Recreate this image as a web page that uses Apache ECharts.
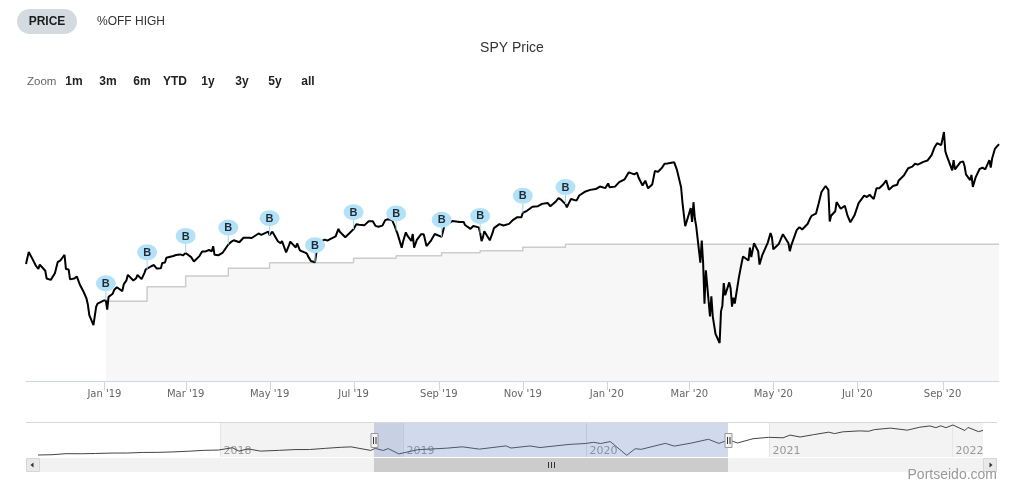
<!DOCTYPE html>
<html><head><meta charset="utf-8">
<script src="https://cdn.jsdelivr.net/npm/echarts@6/dist/echarts.min.js"></script>
<style>html,body{margin:0;padding:0;background:#fff}#c{width:1024px;height:500px}</style>
</head><body><div id="c"></div>
<script>
// ---------- DATA ----------
const priceDates = ['2018-11-05','2018-11-07','2018-11-08','2018-11-09','2018-11-12','2018-11-14','2018-11-15','2018-11-16','2018-11-19','2018-11-20','2018-11-23','2018-11-26','2018-11-28','2018-11-30','2018-12-03','2018-12-04','2018-12-06','2018-12-07','2018-12-10','2018-12-12','2018-12-14','2018-12-17','2018-12-19','2018-12-20','2018-12-21','2018-12-24','2018-12-26','2018-12-27','2018-12-28','2018-12-31',
'2019-01-02','2019-01-03','2019-01-04','2019-01-07','2019-01-08','2019-01-10','2019-01-14','2019-01-15','2019-01-17','2019-01-18','2019-01-22','2019-01-24','2019-01-25','2019-01-28','2019-01-30','2019-01-31','2019-02-01','2019-02-04','2019-02-06','2019-02-08','2019-02-11','2019-02-12','2019-02-14','2019-02-15','2019-02-20','2019-02-22','2019-02-25','2019-02-27','2019-03-01','2019-03-05','2019-03-07','2019-03-08','2019-03-11','2019-03-13','2019-03-15','2019-03-18','2019-03-20','2019-03-21','2019-03-22','2019-03-25','2019-03-28','2019-04-01','2019-04-03','2019-04-05','2019-04-09','2019-04-12','2019-04-16','2019-04-18','2019-04-23','2019-04-25','2019-04-30','2019-05-01','2019-05-03','2019-05-07','2019-05-09','2019-05-10','2019-05-13','2019-05-15','2019-05-16','2019-05-20','2019-05-21','2019-05-23','2019-05-28','2019-05-29','2019-05-31','2019-06-03','2019-06-04','2019-06-06','2019-06-07','2019-06-10','2019-06-12','2019-06-14','2019-06-18','2019-06-20','2019-06-21','2019-06-25','2019-06-28','2019-07-01','2019-07-03','2019-07-05','2019-07-09','2019-07-12','2019-07-15','2019-07-17','2019-07-19','2019-07-22','2019-07-24','2019-07-26','2019-07-29','2019-07-31','2019-08-01','2019-08-02','2019-08-05','2019-08-06','2019-08-08','2019-08-09','2019-08-12','2019-08-13','2019-08-14','2019-08-16','2019-08-19','2019-08-21','2019-08-23','2019-08-26','2019-08-27','2019-08-29','2019-09-03','2019-09-05','2019-09-06','2019-09-11','2019-09-12','2019-09-16','2019-09-19','2019-09-20','2019-09-24','2019-09-26','2019-09-30','2019-10-01','2019-10-02','2019-10-03','2019-10-04','2019-10-08','2019-10-10','2019-10-11','2019-10-15','2019-10-18','2019-10-22','2019-10-25','2019-10-28','2019-10-31','2019-11-01','2019-11-04','2019-11-08','2019-11-12','2019-11-15','2019-11-19','2019-11-21','2019-11-25','2019-11-27','2019-11-29','2019-12-02','2019-12-03','2019-12-04','2019-12-06','2019-12-10','2019-12-12','2019-12-13','2019-12-16','2019-12-20','2019-12-24','2019-12-27','2019-12-31',
'2020-01-02','2020-01-03','2020-01-07','2020-01-10','2020-01-14','2020-01-17','2020-01-21','2020-01-23','2020-01-24','2020-01-27','2020-01-29','2020-01-31','2020-02-03','2020-02-05','2020-02-07','2020-02-10','2020-02-12','2020-02-14','2020-02-19','2020-02-21','2020-02-24','2020-02-25','2020-02-26','2020-02-27','2020-02-28','2020-03-02','2020-03-03','2020-03-04','2020-03-05','2020-03-06','2020-03-09','2020-03-10','2020-03-11','2020-03-12','2020-03-13','2020-03-16','2020-03-17','2020-03-18','2020-03-19','2020-03-20','2020-03-23','2020-03-24','2020-03-25','2020-03-26','2020-03-27','2020-03-30','2020-03-31','2020-04-01','2020-04-02','2020-04-03','2020-04-06','2020-04-08','2020-04-09','2020-04-13','2020-04-14','2020-04-15','2020-04-17','2020-04-20','2020-04-21','2020-04-23','2020-04-27','2020-04-29','2020-04-30','2020-05-01','2020-05-05','2020-05-08','2020-05-12','2020-05-13','2020-05-14','2020-05-15','2020-05-18','2020-05-20','2020-05-22','2020-05-26','2020-05-28','2020-05-29','2020-06-01','2020-06-03','2020-06-05','2020-06-08','2020-06-10','2020-06-11','2020-06-12','2020-06-15','2020-06-16','2020-06-19','2020-06-22','2020-06-24','2020-06-26','2020-06-29','2020-07-02','2020-07-06','2020-07-08','2020-07-10','2020-07-13','2020-07-15','2020-07-17','2020-07-20','2020-07-22','2020-07-24','2020-07-27','2020-07-30','2020-07-31','2020-08-04','2020-08-07','2020-08-10','2020-08-12','2020-08-14','2020-08-18','2020-08-21','2020-08-24','2020-08-26','2020-08-28','2020-08-31','2020-09-02','2020-09-03','2020-09-04','2020-09-08','2020-09-09','2020-09-10','2020-09-11','2020-09-14','2020-09-16','2020-09-17','2020-09-18','2020-09-21','2020-09-22','2020-09-23','2020-09-24','2020-09-25','2020-09-28','2020-09-30','2020-10-02','2020-10-05','2020-10-06','2020-10-07','2020-10-09','2020-10-12'];
const priceValues = [273.39,281.01,280.50,277.76,272.57,270.20,273.02,273.73,269.10,264.12,263.25,267.50,274.58,275.65,279.30,270.25,269.84,263.57,264.07,265.37,260.47,255.36,251.26,247.17,240.70,234.34,246.18,248.07,247.75,249.92,
250.18,244.21,252.39,254.38,256.77,258.55,256.06,260.35,262.96,266.46,262.86,264.26,266.38,263.76,267.58,269.93,270.06,271.96,272.74,270.47,270.62,274.10,274.38,277.37,278.55,279.14,279.52,278.87,280.42,277.80,275.01,274.46,278.44,281.34,281.31,282.33,281.55,284.73,279.25,279.04,280.71,285.83,287.50,288.57,287.31,290.16,290.17,290.02,292.88,292.05,294.02,291.81,294.03,287.93,286.66,288.10,280.86,285.06,287.70,283.95,286.51,282.14,280.15,278.27,275.27,274.57,280.53,284.80,287.65,288.97,288.39,289.26,290.99,295.86,294.00,290.47,293.00,295.66,298.80,298.46,298.22,300.65,300.75,297.74,297.17,297.90,301.44,302.01,301.46,297.43,294.84,292.62,283.82,287.80,293.62,291.62,288.07,292.55,283.90,288.85,292.33,292.45,284.85,288.00,286.87,292.58,290.74,297.80,298.05,300.87,301.29,300.16,300.30,298.28,295.87,297.62,296.77,293.24,288.06,290.42,294.35,288.53,293.24,296.28,298.88,297.97,299.01,301.60,303.30,303.33,306.14,307.37,309.96,310.30,311.79,312.38,310.27,313.37,315.48,314.31,311.64,309.55,311.46,314.87,313.87,317.13,317.32,319.50,320.73,321.23,322.86,321.86,
324.87,322.41,322.81,325.71,327.45,331.95,330.65,331.72,328.77,323.50,326.62,321.73,324.12,332.86,332.20,334.68,337.42,337.60,338.34,333.48,322.42,312.65,311.50,297.51,296.26,309.09,300.24,312.86,302.46,297.46,274.23,288.42,274.36,248.11,269.32,239.85,252.80,240.00,240.51,228.80,222.95,243.15,246.79,261.20,253.42,261.65,257.75,246.15,251.83,248.19,264.86,274.03,278.20,275.66,283.79,277.76,286.64,281.59,273.04,279.10,287.05,293.21,290.48,282.79,286.19,292.44,286.67,281.60,285.09,286.28,295.00,296.93,295.44,299.08,302.97,304.32,305.55,312.18,319.34,323.20,320.79,300.61,304.21,307.05,312.96,308.64,310.62,304.09,300.05,304.46,312.23,317.05,316.18,317.59,314.84,321.85,321.72,324.32,326.83,320.88,323.22,323.96,326.52,330.06,334.57,335.57,337.44,336.84,338.64,339.48,342.92,347.57,350.58,349.31,357.70,345.39,342.57,333.21,339.79,333.89,334.06,338.46,338.82,335.84,330.65,326.97,330.30,322.64,323.50,328.73,334.19,334.89,333.84,339.76,334.93,340.76,346.85,350.00];

const buyDates  = ['2019-01-02','2019-02-01','2019-03-01','2019-04-01','2019-05-01','2019-06-03','2019-07-01','2019-08-01','2019-09-03','2019-10-01','2019-11-01','2019-12-02'];
const buyPrices = [250.18,270.06,280.42,285.83,291.81,274.57,295.66,294.84,290.74,293.24,306.14,311.64];
const buyLabel  = 'B';

const avgDates  = ['2019-01-02','2019-02-01','2019-03-01','2019-04-01','2019-05-01','2019-06-03','2019-07-01','2019-08-01','2019-09-03','2019-10-01','2019-11-01','2019-12-02','2020-10-12'];
const avgValues = [249.6,258.9,265.7,270.7,274.2,274.2,277.0,278.7,280.6,281.9,284.1,286.0,286.0];

const navDates  = ['2017-01-03','2017-01-31','2017-02-28','2017-03-31','2017-04-28','2017-05-31','2017-06-30','2017-07-31','2017-08-31','2017-09-29','2017-10-31','2017-11-30','2017-12-29','2018-01-26','2018-02-08','2018-02-26','2018-03-23','2018-04-30','2018-05-31','2018-06-29','2018-07-31','2018-08-31','2018-09-20','2018-10-29','2018-11-07','2018-11-23','2018-12-03','2018-12-24','2019-01-31','2019-03-29','2019-04-30','2019-06-03','2019-07-26','2019-08-05','2019-09-12','2019-10-02','2019-11-29','2019-12-31','2020-01-17','2020-01-31','2020-02-19','2020-03-23','2020-04-09','2020-04-21','2020-06-08','2020-06-26','2020-07-31','2020-09-02','2020-09-23','2020-10-12','2020-10-30','2020-11-30','2020-12-31','2021-01-29','2021-02-12','2021-03-04','2021-03-31','2021-04-30','2021-05-12','2021-05-28','2021-06-30','2021-07-19','2021-07-30','2021-08-31','2021-09-02','2021-10-04','2021-10-29','2021-11-18','2021-11-30','2021-12-10','2021-12-20','2022-01-03','2022-01-27','2022-02-02','2022-02-23','2022-03-04'];
const navValues = [225.24,227.53,236.47,235.74,238.08,241.44,241.80,246.77,247.49,251.23,257.15,264.46,266.86,286.58,257.63,277.00,258.05,264.51,270.94,271.28,281.33,290.31,293.58,263.86,281.01,263.25,279.30,234.34,269.93,282.48,294.02,274.57,302.01,283.82,301.29,288.06,314.31,321.86,331.95,321.73,338.34,222.95,278.20,273.04,323.20,300.05,326.52,357.70,322.64,352.43,326.54,362.06,373.88,370.07,392.64,376.70,396.33,417.30,405.41,420.04,428.06,424.97,438.51,451.56,453.19,434.24,459.25,469.73,455.56,470.74,454.98,477.71,431.24,457.35,421.95,432.17];

const tickDates  = ['2019-01-01','2019-03-01','2019-05-01','2019-07-01','2019-09-01','2019-11-01','2020-01-01','2020-03-01','2020-05-01','2020-07-01','2020-09-01'];
const tickLabels = ["Jan '19","Mar '19","May '19","Jul '19","Sep '19","Nov '19","Jan '20","Mar '20","May '20","Jul '20","Sep '20"];
const navTickDates  = ['2018-01-01','2019-01-01','2020-01-01','2021-01-01','2022-01-01'];
const navTickLabels = ['2018','2019','2020','2021','2022'];
const navBands = [['2018-01-01','2019-01-01'],['2021-01-01','2022-03-04']];
const viewRange = ['2018-11-05','2020-10-12'];

const titleText = 'SPY Price';
const tabLabels = ['PRICE','%OFF HIGH'];
const zoomLabel = 'Zoom';
const zoomButtons = ['1m','3m','6m','YTD','1y','3y','5y','all'];
const creditText = 'Portseido.com';

// ---------- CHART ----------
const ts = s => new Date(s + 'T00:00:00').getTime();
const FONT = '"DejaVu Sans", sans-serif';
const Y_MIN = 198.68, Y_MAX = 378.13;
const NY_MIN = 208.4, NY_MAX = 494.5;

const chart = echarts.init(document.getElementById('c'));

const zoomX = [74, 108, 142, 175, 208, 242, 275, 308];
const graphics = [
  {type:'rect', shape:{x:17, y:9, width:60, height:25, r:12.5}, style:{fill:'#d3dbe1'}},
  {type:'text', x:47, y:21.5, style:{text:tabLabels[0], fill:'#1c1c1c', font:'bold 12px "Liberation Sans", sans-serif', align:'center', verticalAlign:'middle'}},
  {type:'text', x:97, y:21.5, style:{text:tabLabels[1], fill:'#333', font:'12px "Liberation Sans", sans-serif', align:'left', verticalAlign:'middle'}},
  {type:'text', x:512, y:48, style:{text:titleText, fill:'#333', font:'14px "Liberation Sans", sans-serif', align:'center', verticalAlign:'middle'}},
  {type:'text', x:27, y:82, style:{text:zoomLabel, fill:'#666', font:'11.5px "Liberation Sans", sans-serif', align:'left', verticalAlign:'middle'}},
  // navigator outline
  {type:'line', shape:{x1:26, y1:422.5, x2:997, y2:422.5}, style:{stroke:'#d8d8d8', lineWidth:1}},
  // scrollbar track & buttons
  {type:'rect', shape:{x:26, y:458, width:971, height:14}, style:{fill:'#f2f2f2'}, z:0},
  {type:'rect', shape:{x:26.5, y:458.5, width:13, height:13}, style:{fill:'#e9e9e9', stroke:'#d6d6d6', lineWidth:1}},
  {type:'polygon', shape:{points:[[30.5,465],[33.5,462.5],[33.5,467.5]]}, style:{fill:'#333'}},
  {type:'rect', shape:{x:983.5, y:458.5, width:13, height:13}, style:{fill:'#e9e9e9', stroke:'#d6d6d6', lineWidth:1}},
  {type:'polygon', shape:{points:[[992.5,465],[989.5,462.5],[989.5,467.5]]}, style:{fill:'#333'}},
  {type:'text', x:997, y:475, style:{text:creditText, fill:'#999', font:'14px "Liberation Sans", sans-serif', align:'right', verticalAlign:'middle'}}
];
zoomButtons.forEach((b,i)=>graphics.push({type:'text', x:zoomX[i], y:82, style:{text:b, fill:'#222', font:'bold 12px "Liberation Sans", sans-serif', align:'center', verticalAlign:'middle'}}));

const option = {
  animation:false,
  backgroundColor:'#fff',
  graphic:{elements:graphics},
  grid:[
    {left:26, top:100, width:973, height:281},
    {left:26, top:423, width:971, height:34}
  ],
  xAxis:[
    {type:'time', gridIndex:0, min:ts(viewRange[0]), max:ts(viewRange[1]),
     axisLine:{show:true, onZero:false, lineStyle:{color:'#ccd6eb', width:1}}, axisTick:{show:false}, axisLabel:{show:false}, splitLine:{show:false}},
    {type:'time', gridIndex:1, min:ts('2016-12-10'), max:ts('2022-04-01'),
     axisLine:{show:false}, axisTick:{show:false}, axisLabel:{show:false}, splitLine:{show:false}}
  ],
  yAxis:[
    {type:'value', gridIndex:0, min:Y_MIN, max:Y_MAX, show:false},
    {type:'value', gridIndex:1, min:NY_MIN, max:NY_MAX, show:false}
  ],
  series:[
    {name:'avg', type:'line', xAxisIndex:0, yAxisIndex:0, step:'end', symbol:'none', z:1,
     data: avgDates.map((d,i)=>[ts(d), avgValues[i]]),
     lineStyle:{color:'#cccccc', width:1.5}, areaStyle:{color:'#f7f7f7', opacity:1, origin:'start'}},
    {name:'SPY', type:'line', xAxisIndex:0, yAxisIndex:0, symbol:'none', z:3,
     data: priceDates.map((d,i)=>[ts(d), priceValues[i]]),
     lineStyle:{color:'#000', width:2}},
    {name:'flags', type:'custom', xAxisIndex:0, yAxisIndex:0, z:5, clip:false,
     data: buyDates.map((d,i)=>[ts(d), buyPrices[i]]),
     renderItem:(params, api)=>{
       const p = api.coord([api.value(0), api.value(1)]);
       const cy = p[1]-17;
       return {type:'group', children:[
         {type:'line', shape:{x1:p[0], y1:cy+7, x2:p[0], y2:p[1]}, style:{stroke:'#9dd7f3', lineWidth:1}},
         {type:'circle', x:p[0], y:cy, scaleY:0.8, shape:{cx:0, cy:0, r:10}, style:{fill:'#b3e2f8'}},
         {type:'text', x:p[0], y:cy+0.5, style:{text:buyLabel, fill:'#1e2a36', font:'bold 11px "Liberation Sans", sans-serif', align:'center', verticalAlign:'middle'}}
       ]};
     }},
    {name:'ticks', type:'custom', xAxisIndex:0, yAxisIndex:0, z:2, clip:false, silent:true,
     data: tickDates.map(d=>[ts(d), Y_MIN]),
     renderItem:(params, api)=>{
       const p = api.coord([api.value(0), Y_MIN]);
       const x = Math.round(p[0])+0.5;
       return {type:'group', children:[
         {type:'line', shape:{x1:x, y1:p[1], x2:x, y2:p[1]+9}, style:{stroke:'#ccd6eb', lineWidth:1}},
         {type:'text', x:p[0], y:p[1]+13, style:{text:tickLabels[params.dataIndex], fill:'#666', font:'10px '+FONT, align:'center', verticalAlign:'middle'}}
       ]};
     }},
    // navigator bands
    {name:'navBands', type:'custom', xAxisIndex:1, yAxisIndex:1, z:0, silent:true,
     data: navBands.map(b=>[ts(b[0]), ts(b[1])]),
     renderItem:(params, api)=>{
       const cs = params.coordSys;
       const a = api.coord([api.value(0), NY_MIN])[0], b = api.coord([api.value(1), NY_MIN])[0];
       return {type:'rect', shape:{x:a, y:cs.y, width:b-a, height:cs.height}, style:{fill:'#f3f3f3'}};
     }},
    // navigator grid + labels
    {name:'navTicks', type:'custom', xAxisIndex:1, yAxisIndex:1, z:1, silent:true, clip:false,
     data: navTickDates.map(d=>[ts(d), NY_MIN]),
     renderItem:(params, api)=>{
       const cs = params.coordSys;
       const x = Math.round(api.coord([api.value(0), NY_MIN])[0])+0.5;
       return {type:'group', children:[
         {type:'line', shape:{x1:x, y1:cs.y, x2:x, y2:cs.y+cs.height}, style:{stroke:'#e6e6e6', lineWidth:1}},
         {type:'text', x:x+3, y:cs.y+28, style:{text:navTickLabels[params.dataIndex], fill:'#999', font:'11px '+FONT, align:'left', verticalAlign:'middle'}}
       ]};
     }},
    {name:'navSeries', type:'line', xAxisIndex:1, yAxisIndex:1, symbol:'none', z:2,
     data: navDates.map((d,i)=>[ts(d), navValues[i]]),
     lineStyle:{color:'#444', width:1}},
    // navigator selection mask, handles, scrollbar thumb
    {name:'navSel', type:'custom', xAxisIndex:1, yAxisIndex:1, z:3, silent:true, clip:false,
     data: [[ts(viewRange[0]), ts(viewRange[1])]],
     renderItem:(params, api)=>{
       const cs = params.coordSys;
       const a = Math.round(api.coord([api.value(0), NY_MIN])[0]), b = Math.round(api.coord([api.value(1), NY_MIN])[0]);
       const m = (a+b)/2;
       const handle = x => [
         {type:'rect', shape:{x:x-3.5, y:433.5, width:7, height:14}, style:{fill:'#f2f2f2', stroke:'#999', lineWidth:1}},
         {type:'line', shape:{x1:x-1, y1:437, x2:x-1, y2:444}, style:{stroke:'#333', lineWidth:1}},
         {type:'line', shape:{x1:x+1.5, y1:437, x2:x+1.5, y2:444}, style:{stroke:'#333', lineWidth:1}}
       ];
       return {type:'group', children:[
         {type:'rect', shape:{x:a, y:cs.y, width:b-a, height:cs.height}, style:{fill:'rgba(102,133,194,0.3)'}},
         {type:'rect', shape:{x:a, y:458, width:b-a, height:14}, style:{fill:'#cccccc'}},
         {type:'line', shape:{x1:m-2.5, y1:462, x2:m-2.5, y2:468}, style:{stroke:'#333', lineWidth:1}},
         {type:'line', shape:{x1:m+0.5, y1:462, x2:m+0.5, y2:468}, style:{stroke:'#333', lineWidth:1}},
         {type:'line', shape:{x1:m+3.5, y1:462, x2:m+3.5, y2:468}, style:{stroke:'#333', lineWidth:1}},
         ...handle(a+0.5), ...handle(b+0.5)
       ]};
     }}
  ]
};
chart.setOption(option);
</script>
</body></html>
